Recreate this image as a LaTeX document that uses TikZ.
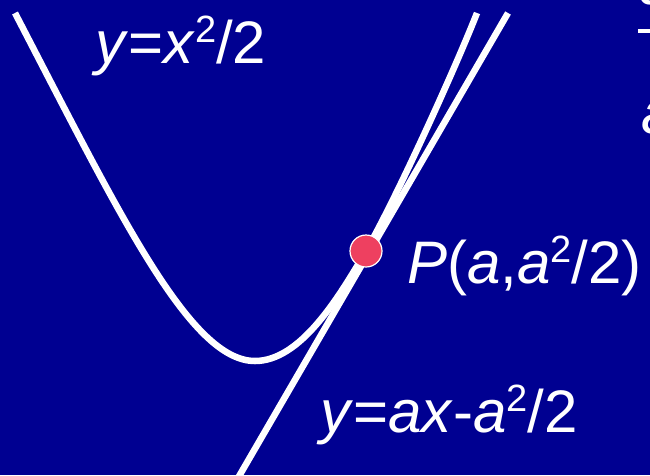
\documentclass[tikz,border=0pt]{standalone}
\usepackage{fontspec}
\setmainfont{Liberation Sans}
\definecolor{fondo}{RGB}{0,0,145}
\definecolor{punto}{RGB}{238,64,96}
\newcommand{\exponente}[1]{\raisebox{21pt}{\fontsize{38}{38}\selectfont #1}}
\tikzset{
	curva/.style={white, line width=6.5pt},
	texto/.style={white, anchor=base west, inner sep=0pt, font=\fontsize{60}{72}\selectfont},
}
\begin{document}
\begin{tikzpicture}[x=1pt,y=-1pt]

\fill[fondo] (0,0) rectangle (650,475);
\useasboundingbox (0,0) rectangle (650,475);

	\coordinate (T1) at (238,478);
	\coordinate (T2) at (508,13);
	\node[circle, minimum size=32pt, inner sep=0pt] (P) at (366,251) {};

% Parabola
	\draw[curva] (15,13) .. controls (120,215) and (190,361) .. (255,361)
		.. controls (300,361) and (338,299) .. (P.center)
		.. controls (396,199) and (455,69) .. (477,13);

% Recta tangente
	\draw[curva] (T1) -- (T2);
	\node[circle, fill=punto, draw=white, line width=1.2pt, minimum size=32pt, inner sep=0pt] at (P) {};

% Textos
\node[texto] (ecParabola) at (95,63) {\textit{y}=\textit{x}\exponente{2}/2};
\node[texto] (ecPunto) at (407,283) {\textit{P}(\textit{a},\textit{a}\exponente{2}/2)};
\node[texto] (ecTangente) at (320,432) {\textit{y}=\textit{ax}-\textit{a}\exponente{2}/2};

% Texto cortado (derecha)
\node[texto] (numerador) at (638,4) {\textit{dy}};
	\draw[white, line width=3.5pt] (638,31) -- (720,31);
\node[texto] (pendiente) at (641,133) {\textit{a}};
\end{tikzpicture}
\end{document}
